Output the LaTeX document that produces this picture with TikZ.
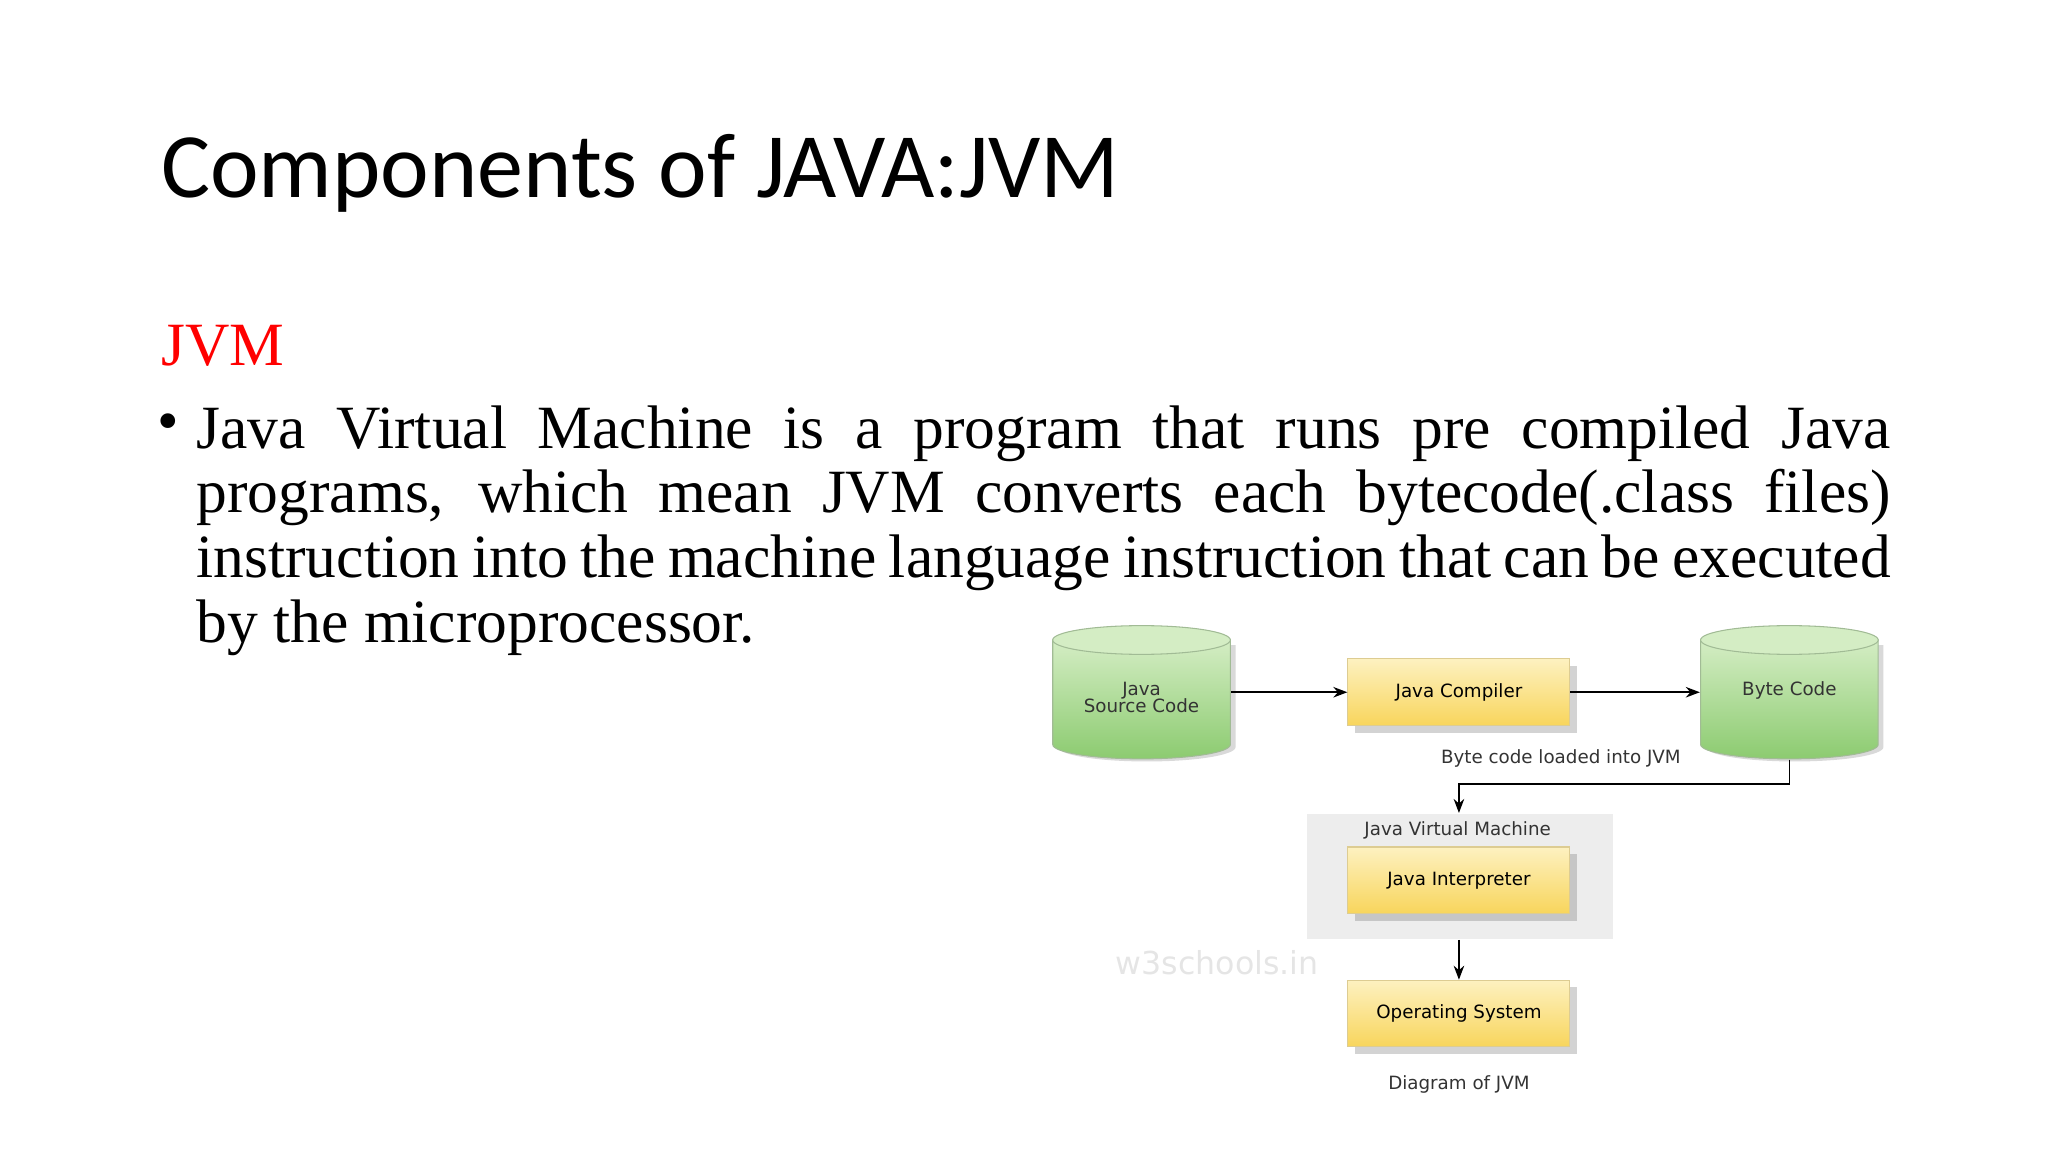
\documentclass[tikz,border=0pt]{standalone}
\usepackage{fontspec}
\setmainfont{Liberation Serif}
\newfontfamily\titlefont{Carlito}
\newfontfamily\diafont{DejaVu Sans}
\usetikzlibrary{shadows,arrows.meta}
\hyphenpenalty=10000
\exhyphenpenalty=10000
\definecolor{ytop}{HTML}{FDF1C0}
\definecolor{ybot}{HTML}{F8D55C}
\definecolor{gtop}{HTML}{D4EDC4}
\definecolor{gbot}{HTML}{8CCB70}
\begin{document}
\begin{tikzpicture}[x=0.0130612cm,y=-0.0130612cm,
  ybox/.style={rectangle,minimum width=170*0.0130612cm,minimum height=51*0.0130612cm,
    top color=ytop,bottom color=ybot,
    draw=ybot!80!black!60,line width=0.3pt,
    drop shadow={shadow xshift=2pt,shadow yshift=-2pt,opacity=0.35},
    font=\diafont\fontsize{5.2}{6}\selectfont},
  dtext/.style={font=\diafont\fontsize{5.2}{6}\selectfont,text=black!80},
  arr/.style={-{Stealth[length=4pt,width=3pt]},line width=0.5pt},
  cylfill/.style={top color=gtop,bottom color=gbot,draw=gbot!70!black!60,line width=0.3pt}]
\useasboundingbox (0,0) rectangle (1568,882);
\node[anchor=west,font=\titlefont\fontsize{26.2}{30}\selectfont] (title) at (114,133) {Components of JAVA:JVM};
\node[anchor=west,text=red,font=\fontsize{17.5}{20}\selectfont] (jvm) at (114,265) {JVM};
\node[anchor=north west,inner sep=0pt,font=\fontsize{17.5}{18.4}\selectfont] (bul) at (120,316) {\textbullet};
\node[anchor=north west,inner sep=0pt,text width=1297*0.0130612cm,align=justify,font=\fontsize{17.5}{18.4}\selectfont] (body) at (150,310)
 {Java Virtual Machine is a program that runs pre compiled Java programs, which mean JVM converts each bytecode(.class files) instruction into the machine language instruction that can be executed by the microprocessor.};
% watermark
\node[text=black!10,font=\diafont\fontsize{9}{10}\selectfont] (wm) at (932,737) {w3schools.in};
% JVM container
\node[fill=black!7,minimum width=234*0.0130612cm,minimum height=96*0.0130612cm] (jvmbox) at (1118,671) {};
\node[dtext] (jvmlab) at (1116,636) {Java Virtual Machine};
% cylinders
\foreach \n/\cx in {src/874,bc/1370}{
  \fill[black!25,opacity=0.6] (\cx-64,494) -- (\cx-64,572) arc[start angle=180,end angle=0,x radius=68,y radius=11] -- (\cx+72,494) -- cycle;
  \path[cylfill] (\cx-68,490) -- (\cx-68,570) arc[start angle=180,end angle=0,x radius=68,y radius=11] -- (\cx+68,490) -- cycle;
  \draw[gbot!70!black!60,line width=0.3pt,fill=gtop] (\cx,490) ellipse[x radius=68,y radius=11];
  \node[minimum width=136*0.0130612cm,minimum height=102*0.0130612cm] (\n) at (\cx,530) {};
}
\node[dtext,align=center] at (874,534) {Java\\[-1pt]Source Code};
\node[dtext] at (1370,529) {Byte Code};
\node[ybox] (comp) at (1117,530) {Java Compiler};
\node[ybox] (interp) at (1117,674) {Java Interpreter};
\node[ybox] (os) at (1117,776) {Operating System};
\draw[arr] (src.east|-comp) -- (comp.west);
\draw[arr] (comp.east) -- (bc.west|-comp);
\node[dtext] (bclab) at (1195,581) {Byte code loaded into JVM};
\coordinate (turn1) at (1370,600);
\coordinate (turn2) at (1117,600);
\draw[arr] (bc.south) -- (turn1) -- (turn2) -- (jvmbox.north-|turn2);
\draw[arr] (jvmbox.south-|os) -- (os.north);
\node[dtext] (cap) at (1117,830) {Diagram of JVM};
\end{tikzpicture}
\end{document}
